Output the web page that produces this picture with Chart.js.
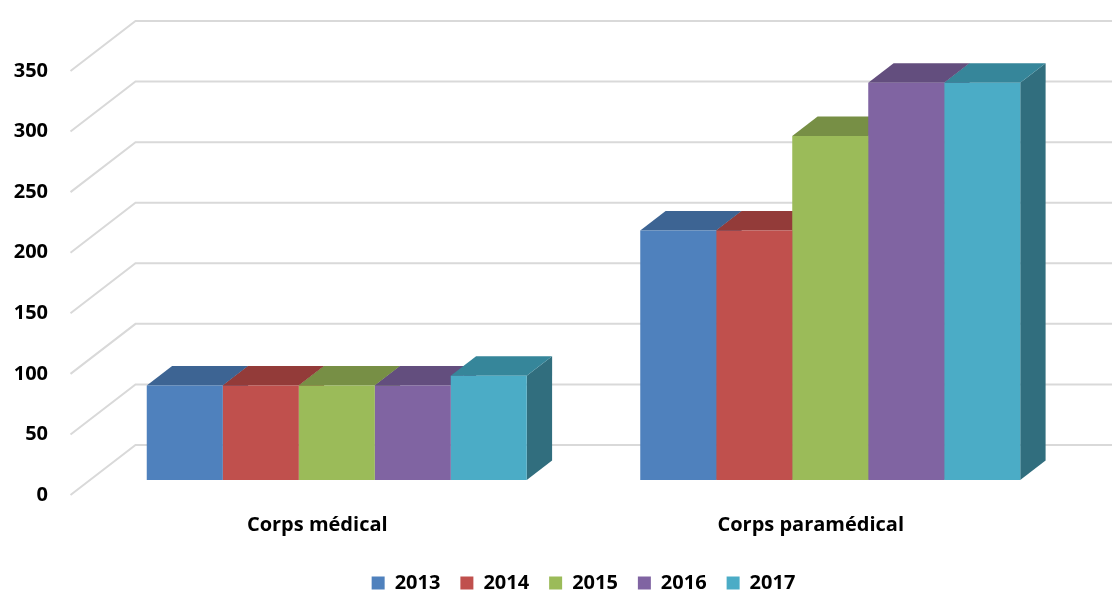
<!DOCTYPE html>
<html>
<head>
<meta charset="utf-8">
<script src="https://cdn.jsdelivr.net/npm/chart.js@4.4.1/dist/chart.umd.min.js"></script>
<style>
  html, body { margin: 0; padding: 0; background: #fff; }
</style>
</head>
<body>
<canvas id="grafico" width="1112" height="592"></canvas>
<script>
const categories = ["Corps médical", "Corps paramédical"];
const years = ["2013", "2014", "2015", "2016", "2017"];
const valores2013 = [78, 206];
const valores2014 = [78, 206];
const valores2015 = [78, 284];
const valores2016 = [78, 328];
const valores2017 = [86, 328];
const yTicks = [0, 50, 100, 150, 200, 250, 300, 350];

const couleurs = ["#4F81BD", "#C0504D", "#9BBB59", "#8064A2", "#4BACC6"];
const dessus = ["#3D6493", "#933B39", "#778F45", "#634E7E", "#36869A"];
const cotes = ["#33557D", "#7D3331", "#657A3A", "#54426B", "#316E7E"];

// décalage de profondeur (vue oblique)
const PROF_DX = 65, PROF_DY = -50;
const AVANT = 0.3;   // plan des barres par rapport au plan avant
const EPAIS = 0.39;  // épaisseur des barres

const police = { family: "'Open Sans'", size: 20, weight: "bold" };

const effet3d = {
  id: "effet3d",
  beforeDatasetsDraw(chart) {
    const ctx = chart.ctx;
    const y = chart.scales.y;
    const ca = chart.chartArea;
    const fx = -AVANT * PROF_DX, fy = -AVANT * PROF_DY;
    const bx = (1 - AVANT) * PROF_DX, by = (1 - AVANT) * PROF_DY;

    // quadrillage : paroi latérale + fond
    ctx.save();
    ctx.strokeStyle = "#d9d9d9";
    ctx.lineWidth = 2;
    y.ticks.forEach(t => {
      const py = y.getPixelForValue(t.value);
      ctx.beginPath();
      ctx.moveTo(ca.left + fx, py + fy);
      ctx.lineTo(ca.left + bx, py + by);
      ctx.lineTo(chart.width, py + by);
      ctx.stroke();
    });

    const dx = EPAIS * PROF_DX, dy = EPAIS * PROF_DY;
    const barres = [];
    chart.data.datasets.forEach((ds, i) => {
      chart.getDatasetMeta(i).data.forEach(b => barres.push({ b, i }));
    });
    // côtés
    barres.forEach(({ b, i }) => {
      const r = b.x + b.width / 2;
      ctx.fillStyle = cotes[i];
      ctx.beginPath();
      ctx.moveTo(r, b.y);
      ctx.lineTo(r + dx, b.y + dy);
      ctx.lineTo(r + dx, b.base + dy);
      ctx.lineTo(r, b.base);
      ctx.closePath();
      ctx.fill();
    });
    // dessus
    barres.forEach(({ b, i }) => {
      const l = b.x - b.width / 2, r = b.x + b.width / 2;
      ctx.fillStyle = dessus[i];
      ctx.beginPath();
      ctx.moveTo(l, b.y);
      ctx.lineTo(l + dx, b.y + dy);
      ctx.lineTo(r + dx, b.y + dy);
      ctx.lineTo(r, b.y);
      ctx.closePath();
      ctx.fill();
    });
    ctx.restore();
  }
};

const series = [valores2013, valores2014, valores2015, valores2016, valores2017];

new Chart(document.getElementById("grafico"), {
  type: "bar",
  data: {
    labels: categories,
    datasets: years.map((an, i) => ({
      label: an,
      data: series[i],
      backgroundColor: couleurs[i],
      borderWidth: 0,
      categoryPercentage: 0.77,
      barPercentage: 1
    }))
  },
  options: {
    responsive: false,
    animation: false,
    layout: { padding: { top: 56, right: 35, bottom: -11, left: 0 } },
    scales: {
      x: {
        grid: { display: false, drawTicks: false },
        border: { display: false },
        ticks: { font: police, color: "#000", labelOffset: -AVANT * PROF_DX, padding: 33 },
        afterFit: s => { s.height = 73; }
      },
      y: {
        min: 0,
        max: 350,
        afterBuildTicks: s => { s.ticks = yTicks.map(v => ({ value: v })); },
        grid: { display: false, drawTicks: false },
        border: { display: false },
        ticks: { font: police, color: "#000", labelOffset: -AVANT * PROF_DY, padding: 42 },
        afterFit: s => { s.width = 90; }
      }
    },
    plugins: {
      legend: {
        position: "bottom",
        fullSize: false,
        labels: { boxWidth: 13, boxHeight: 13, padding: 20, font: police, color: "#000" }
      },
      tooltip: { enabled: false }
    }
  },
  plugins: [effet3d]
});
</script>
</body>
</html>
